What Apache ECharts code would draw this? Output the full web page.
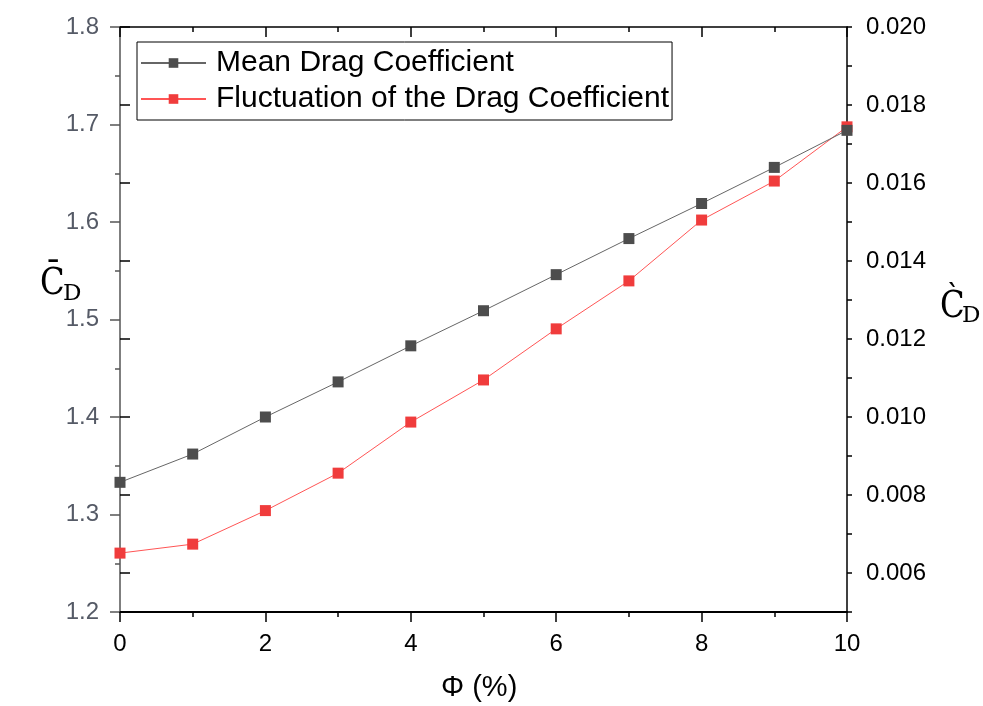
<!DOCTYPE html>
<html>
<head>
<meta charset="utf-8">
<script src="https://cdn.jsdelivr.net/npm/echarts@6/dist/echarts.min.js"></script>
<style>
  html, body { margin: 0; padding: 0; background: #fff; }
  #chart { width: 983px; height: 706px; }
</style>
</head>
<body>
<div id="chart"></div>
<script>
// Volume fraction Φ (%)
const phi = [0, 1, 2, 3, 4, 5, 6, 7, 8, 9, 10];
// Mean drag coefficient (left axis)
const meanCd = [1.333, 1.362, 1.400, 1.436, 1.473, 1.509, 1.546, 1.583, 1.619, 1.656, 1.694];
// Fluctuation of the drag coefficient (right axis)
const flucCd = [0.00651, 0.00674, 0.00760, 0.00856, 0.00987, 0.01095, 0.01226, 0.01349, 0.01505, 0.01605, 0.01744];
// Labelled ticks of the right axis
const rightTicks = [0.006, 0.008, 0.010, 0.012, 0.014, 0.016, 0.018, 0.020];

const seriesNames = ['Mean Drag Coefficient', 'Fluctuation of the Drag Coefficient'];

const chart = echarts.init(document.getElementById('chart'), null, { renderer: 'canvas' });

const labelFont = 'Liberation Sans, Arial, sans-serif';
const serif = '"DejaVu Serif", serif';

chart.setOption({
  animation: false,
  backgroundColor: '#fff',
  grid: { left: 120, right: 136, top: 27, bottom: 94, containLabel: false },
  legend: {
    left: 137, top: 42,
    orient: 'vertical',
    borderColor: '#000', borderWidth: 1,
    padding: [6, 3, 6, 3],
    itemGap: 6,
    itemWidth: 65, itemHeight: 12,
    textStyle: { fontFamily: labelFont, fontSize: 30, color: '#000', lineHeight: 30, padding: [0, 0, 0, 5] },
    data: seriesNames
  },
  xAxis: [
    {
      type: 'value', position: 'bottom', min: 0, max: 10, interval: 2,
      axisLine: { show: true, onZero: false, lineStyle: { color: '#000', width: 2 } },
      axisTick: { show: true, inside: false, length: 10, lineStyle: { color: '#000', width: 1.5 } },
      minorTick: { show: true, splitNumber: 2, length: 5, lineStyle: { color: '#000', width: 1.5 } },
      axisLabel: { fontFamily: labelFont, fontSize: 24, color: '#000', margin: 20 },
      splitLine: { show: false }
    },
    {
      type: 'value', position: 'top', min: 0, max: 10, interval: 2,
      axisLine: { show: true, onZero: false, lineStyle: { color: '#000', width: 1.5 } },
      axisTick: { show: true, inside: true, length: 10, lineStyle: { color: '#000', width: 1.5 } },
      minorTick: { show: true, splitNumber: 2, length: 5, lineStyle: { color: '#000', width: 1.5 } },
      axisLabel: { show: false },
      splitLine: { show: false }
    }
  ],
  yAxis: [
    {
      type: 'value', position: 'left', min: 1.2, max: 1.8, interval: 0.1,
      axisLine: { show: true, onZero: false, lineStyle: { color: '#555', width: 1.5 } },
      axisTick: { show: true, inside: false, length: 10, lineStyle: { color: '#555', width: 1.5 } },
      minorTick: { show: true, splitNumber: 2, length: 5, lineStyle: { color: '#555', width: 1.5 } },
      axisLabel: {
        fontFamily: labelFont, fontSize: 24, color: '#555a66', margin: 21,
        formatter: v => v.toFixed(1)
      },
      splitLine: { show: false }
    },
    {
      type: 'value', position: 'right', min: 0.005, max: 0.020, interval: 0.001,
      axisLine: { show: true, onZero: false, lineStyle: { color: '#000', width: 1.5 } },
      axisTick: { show: true, inside: false, length: 5, lineStyle: { color: '#000', width: 1.5 } },
      axisLabel: {
        fontFamily: labelFont, fontSize: 24, color: '#000', margin: 19,
        formatter: v => {
          const k = Math.round(v * 1000);
          return k % 2 === 0 ? (k / 1000).toFixed(3) : '';
        }
      },
      splitLine: { show: false }
    },
    {
      type: 'value', position: 'right', min: 0.005, max: 0.020,
      axisLine: { show: false },
      axisTick: { show: true, inside: false, length: 10, customValues: rightTicks, lineStyle: { color: '#000', width: 1.5 } },
      axisLabel: { show: false },
      splitLine: { show: false }
    }
  ],
  series: [
    {
      name: seriesNames[0], type: 'line', xAxisIndex: 0, yAxisIndex: 0,
      data: phi.map((p, i) => [p, meanCd[i]]),
      symbol: 'rect', symbolSize: 11,
      itemStyle: { color: '#4d4d4d' },
      lineStyle: { color: '#666', width: 1 },
      z: 3
    },
    {
      name: seriesNames[1], type: 'line', xAxisIndex: 0, yAxisIndex: 1,
      data: phi.map((p, i) => [p, flucCd[i]]),
      symbol: 'rect', symbolSize: 11,
      itemStyle: { color: '#f03c3c' },
      lineStyle: { color: '#f55', width: 1 },
      z: 2
    }
  ],
  graphic: [
    { type: 'text', left: 40, top: 265, scaleX: 0.85, style: { text: 'C\u0304', font: '38px ' + serif, fill: '#000' } },
    { type: 'text', left: 63, top: 283, style: { text: 'D', font: '23px ' + serif, fill: '#000' } },
    { type: 'text', left: 940, top: 288, scaleX: 0.85, style: { text: 'C\u0300', font: '38px ' + serif, fill: '#000' } },
    { type: 'text', left: 962, top: 305, style: { text: 'D', font: '23px ' + serif, fill: '#000' } },
    { type: 'text', left: 441, top: 673, style: { text: 'Φ (%)', font: '29px "Liberation Sans", Arial, sans-serif', fill: '#000' } }
  ]
});
</script>
</body>
</html>
